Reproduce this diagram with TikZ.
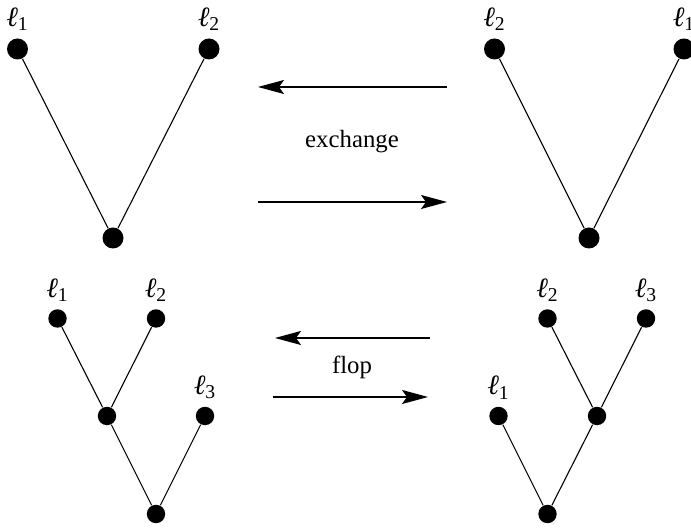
\documentclass[tikz,border=0pt]{standalone}
\usepackage{fontspec}
\setmainfont{Liberation Serif}
\tikzstyle{bigleaf}=[circle,fill=black,inner sep=0pt,minimum size=10.5pt,label distance=1pt]
\tikzstyle{leaf}=[circle,fill=black,inner sep=0pt,minimum size=9.2pt,label distance=-0.6pt]
\tikzstyle{word}=[font=\fontsize{12.4}{15}\selectfont]
\tikzstyle{leafname}=[font=\fontsize{14}{17}\selectfont]
\newcommand{\lf}[1]{\textit{ℓ}\textsubscript{#1}}
\usetikzlibrary{arrows.meta,positioning}

\begin{document}
\begin{tikzpicture}[x=0.5pt,y=0.5pt,line width=0.55pt,
    >={Stealth[length=13pt,width=7pt,inset=2.5pt]},
    every label/.style={leafname}]
            \useasboundingbox (0,0) rectangle (691,529);

            % EXCHANGE, left tree

            \node[bigleaf,label=above:\lf{1}] (a1) at (17.5,480) {};
            \node[bigleaf,label=above:\lf{2}] (a2) at (209,480) {};
            \node[bigleaf] (a0) at (113,291) {};

            \path (a1) edge (a0);
            \path (a2) edge (a0);

            % EXCHANGE, right tree

            \node[bigleaf,label=above:\lf{2}] (b2) at (494.5,480) {};
            \node[bigleaf,label=above:\lf{1}] (b1) at (684,480) {};
            \node[bigleaf] (b0) at (589,291) {};

            \path (b2) edge (b0);
            \path (b1) edge (b0);

            % exchange arrows

            \node[word] (exchange) at (352,387) {exchange};
            \coordinate (ex1) at (447,442);
            \coordinate (ex2) at (258,442);
            \coordinate (ex3) at (258,327);
            \coordinate (ex4) at (447,327);

            \path[->] (ex1) edge (ex2);
            \path[->] (ex3) edge (ex4);

            % FLOP, left tree

            \node[leaf,label=above:\lf{1}] (c1) at (57.5,210.5) {};
            \node[leaf,label=above:\lf{2}] (c2) at (156,210.5) {};
            \node[leaf,label=above:\lf{3}] (c3) at (205,113) {};
            \node[leaf] (cm) at (107,113) {};
            \node[leaf] (c0) at (156,15) {};

            \path (c1) edge (cm);
            \path (c2) edge (cm);
            \path (cm) edge (c0);
            \path (c3) edge (c0);

            % FLOP, right tree

            \node[leaf,label=above:\lf{2}] (d2) at (547.5,210.5) {};
            \node[leaf,label=above:\lf{3}] (d3) at (646,210.5) {};
            \node[leaf,label=above:\lf{1}] (d1) at (498.5,113) {};
            \node[leaf] (dm) at (597,113) {};
            \node[leaf] (d0) at (547.5,15) {};

            \path (d2) edge (dm);
            \path (d3) edge (dm);
            \path (dm) edge (d0);
            \path (d1) edge (d0);

            % flop arrows

            \node[word] (flop) at (352,162) {flop};
            \coordinate (fl1) at (430,191);
            \coordinate (fl2) at (275,191);
            \coordinate (fl3) at (273,132);
            \coordinate (fl4) at (428,132);

            \path[->] (fl1) edge (fl2);
            \path[->] (fl3) edge (fl4);

        \end{tikzpicture}
\end{document}
